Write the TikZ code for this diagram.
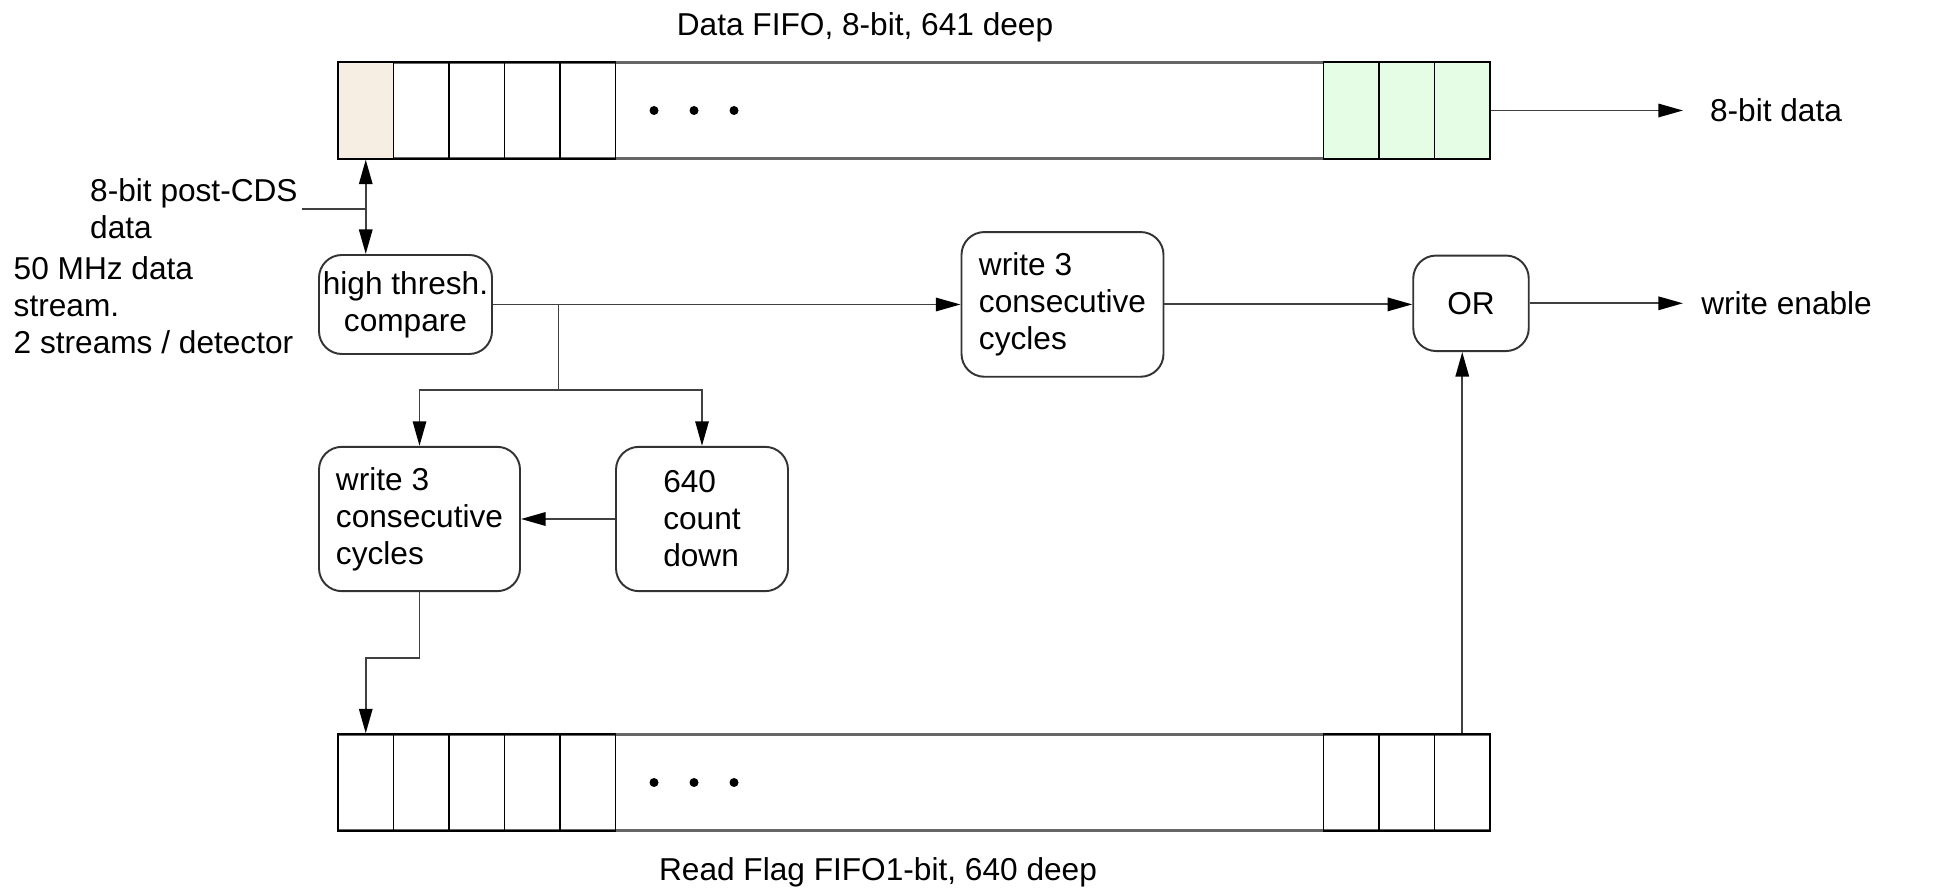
\documentclass[tikz,border=0pt]{standalone}
\usepackage{fontspec}
\setmainfont{Liberation Sans}
\usetikzlibrary{arrows.meta}
\definecolor{cellin}{RGB}{246,237,227}
\definecolor{cellout}{RGB}{229,252,229}

\begin{document}
\begin{tikzpicture}[>={Triangle[length=7pt,width=3.8pt,color=black]},font=\fontsize{9}{10.5}\selectfont,
  wire/.style={black!75,line width=0.55pt},
  fifo/.style={draw=black!60,line width=0.8pt,minimum width=11.52cm,minimum height=0.963cm,inner sep=0pt},
  cell/.style={draw=black,line width=0.55pt,minimum width=0.555cm,minimum height=0.963cm,inner sep=0pt},
  blk/.style={draw=black!80,line width=0.55pt,rounded corners=6.5pt,inner sep=1pt,align=left},
  txt/.style={inner sep=1pt,align=left}]
\useasboundingbox (0,0) rectangle (19.54,8.89);
% data fifo
\node[fifo] (fifoD) at (9.14,7.785) {};
\node[cell,fill=cellin] (d1) at (3.6575,7.785) {};
\foreach \i in {2,...,5}
  \node[cell] (d\i) at ({3.38+0.555*(\i-0.5)},7.785) {};
\foreach \i/\x in {6/13.5125,7/14.0675,8/14.6225}
  \node[cell,fill=cellout] (d\i) at (\x,7.785) {};
\foreach \x in {6.54,6.94,7.34}
  \fill (\x,7.785) circle (0.045);
\node (tD) at (8.65,8.62) {Data FIFO, 8-bit, 641 deep};
% flag fifo
\node[fifo] (fifoF) at (9.14,1.065) {};
\foreach \i in {1,...,5}
  \node[cell] (f\i) at ({3.38+0.555*(\i-0.5)},1.065) {};
\foreach \i/\x in {6/13.5125,7/14.0675,8/14.6225}
  \node[cell] (f\i) at (\x,1.065) {};
\foreach \x in {6.54,6.94,7.34}
  \fill (\x,1.065) circle (0.045);
\node (tF) at (8.78,0.17) {Read Flag FIFO1-bit, 640 deep};
% blocks
\node[blk,align=center,minimum width=1.73cm,minimum height=0.99cm] (hi) at (4.055,5.845) {high thresh.\\compare};
\node[blk,minimum width=2.02cm,minimum height=1.447cm] (wrA) at (10.625,5.846) {write 3\\consecutive\\cycles};
\node[blk,minimum width=2.01cm,minimum height=1.443cm] (wrB) at (4.195,3.70) {write 3\\consecutive\\cycles};
\node[blk,minimum width=1.72cm,minimum height=1.443cm] (cnt) at (7.02,3.70) {640\\count\\down};
\node[blk,align=center,minimum width=1.155cm,minimum height=0.955cm] (or) at (14.71,5.857) {OR};
% side labels
\node[txt,anchor=west] (src) at (0.86,6.80) {8-bit post-CDS\\data};
\node[txt,anchor=west] (rate) at (0.095,5.84) {50 MHz data\\stream.\\2 streams / detector};
\node[txt,anchor=west,inner xsep=7.5pt] (dout) at (16.83,7.785) {8-bit data};
\node[txt,anchor=west,inner xsep=5pt] (we) at (16.83,5.857) {write enable};
% connectors
\draw[wire,<->] (d1.south) -- (d1.south |- hi.north);
\draw[wire] (src.east) -- (src.east -| d1.south);
\draw[wire,->] (fifoD.east) -- (dout.west);
\draw[wire,->] (hi.east) -- (hi.east -| wrA.west);
\draw[wire,->] (wrA.east) -- (wrA.east -| or.west);
\draw[wire,->] (or.east) -- (we.west);
\coordinate (br) at (5.585,5.845);
\coordinate (brd) at (5.585,4.99);
\draw[wire] (br) -- (brd);
\draw[wire,->] (brd) -| (wrB.north);
\draw[wire,->] (brd) -| (cnt.north);
\draw[wire,->] (cnt.west) -- (wrB.east);
\coordinate (jog) at (3.6575,2.313);
\draw[wire,->] (wrB.south) |- (jog) -- (f1.north);
\draw[wire,->] (f8.north) -- (f8.north |- or.south);
\end{tikzpicture}
\end{document}
